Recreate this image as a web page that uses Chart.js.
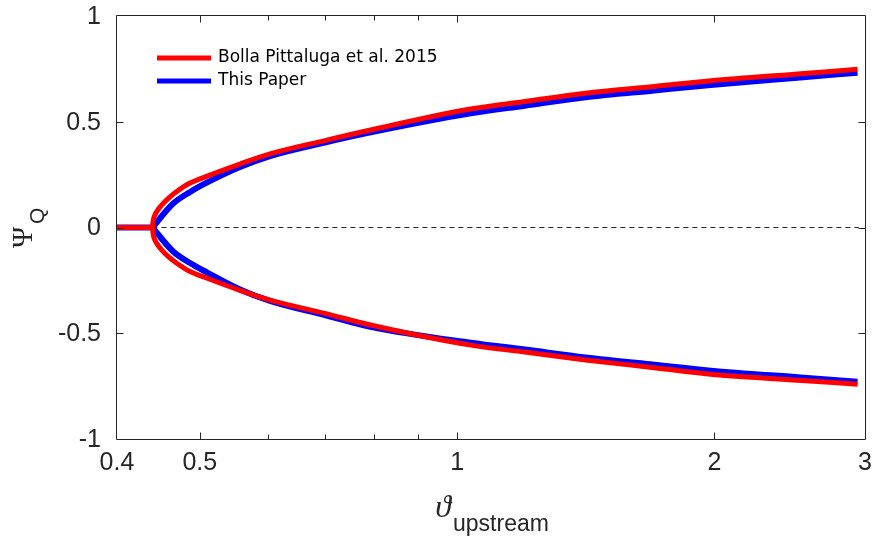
<!DOCTYPE html>
<html>
<head>
<meta charset="utf-8">
<script src="https://cdn.jsdelivr.net/npm/chart.js@4/dist/chart.umd.min.js"></script>
<style>
  html, body { margin: 0; padding: 0; background: #fff; }
  canvas { display: block; }
</style>
</head>
<body>
<canvas id="c" width="875" height="541"></canvas>
<script>
// Shields parameter upstream (log axis) and discharge asymmetry Psi_Q
const xTicks = [0.4, 0.5, 1, 2, 3];
const xTickLabels = ['0.4', '0.5', '1', '2', '3'];
const xMinorTicks = [0.6, 0.7, 0.8, 0.9];
const yTicks = [-1, -0.5, 0, 0.5, 1];
const yTickLabels = ['-1', '-0.5', '0', '0.5', '1'];

// symmetric (no bifurcation) state below the critical value
const thetaFlat = [0.40, 0.44];
const psiFlat = [0, 0];

// Bolla Pittaluga et al. 2015, branches starting at the bifurcation point
const thetaBP = [0.44, 0.441, 0.443, 0.4467, 0.4516, 0.459, 0.4703, 0.487, 0.51, 0.557, 0.604, 0.70, 0.792, 1.037, 1.2, 1.413, 1.7, 1.98, 2.5, 2.94];
const psiBPUpper = [0, 0.034, 0.059, 0.084, 0.108, 0.137, 0.171, 0.210, 0.243, 0.300, 0.348, 0.411, 0.461, 0.560, 0.596, 0.635, 0.667, 0.694, 0.726, 0.748];
const psiBPLower = [0, -0.034, -0.059, -0.084, -0.108, -0.137, -0.170, -0.208, -0.240, -0.297, -0.343, -0.406, -0.461, -0.556, -0.589, -0.626, -0.663, -0.694, -0.722, -0.741];

// This paper
const thetaTP = [0.44, 0.465, 0.487, 0.51, 0.557, 0.604, 0.70, 0.792, 1.037, 1.2, 1.413, 1.7, 1.98, 2.5, 2.94];
const psiTPUpper = [0, 0.112, 0.168, 0.213, 0.286, 0.338, 0.402, 0.450, 0.540, 0.576, 0.616, 0.648, 0.674, 0.708, 0.732];
const psiTPLower = [0, -0.112, -0.168, -0.213, -0.293, -0.347, -0.414, -0.470, -0.545, -0.577, -0.614, -0.649, -0.677, -0.708, -0.729];

// dashed zero reference
const zeroX = [0.44, 2.95];
const zeroY = [0, 0];

const seriesNames = ['Bolla Pittaluga et al. 2015', 'This Paper'];

// flat part, upper branch and lower branch as one path with gaps between them
function branches(xs, up, low) {
  const gap = (x) => ({ x, y: null });
  const pts = thetaFlat.map((x, i) => ({ x, y: psiFlat[i] }));
  pts.push(gap(thetaFlat[thetaFlat.length - 1]));
  xs.forEach((x, i) => pts.push({ x, y: up[i] }));
  pts.push(gap(xs[xs.length - 1]));
  xs.forEach((x, i) => pts.push({ x, y: low[i] }));
  return pts;
}

const frameColor = '#262626';
const tickFont = '25px "Liberation Sans"';

const framePlugin = {
  id: 'frame',
  afterDatasetsDraw(chart) {
    const { ctx, chartArea: a, scales: { x, y } } = chart;
    const L = Math.round(a.left) - 0.5, R = Math.round(a.right) + 0.5;
    const T = Math.round(a.top) - 0.5, B = Math.round(a.bottom) + 0.5;
    ctx.save();
    ctx.strokeStyle = frameColor;
    ctx.lineWidth = 1;
    ctx.beginPath();
    ctx.rect(L, T, R - L, B - T);
    // x ticks, inward on bottom and top
    const xt = (v, len) => {
      const px = Math.round(x.getPixelForValue(v)) + 0.5;
      ctx.moveTo(px, B); ctx.lineTo(px, B - len);
      ctx.moveTo(px, T); ctx.lineTo(px, T + len);
    };
    xTicks.slice(1, -1).forEach(v => xt(v, 7));
    xMinorTicks.forEach(v => xt(v, 5));
    // y ticks, inward on left and right
    yTicks.slice(1, -1).forEach(v => {
      const py = Math.round(y.getPixelForValue(v)) + 0.5;
      ctx.moveTo(L, py); ctx.lineTo(L + 7, py);
      ctx.moveTo(R, py); ctx.lineTo(R - 7, py);
    });
    ctx.stroke();

    // tick labels
    ctx.fillStyle = frameColor;
    ctx.font = tickFont;
    ctx.textAlign = 'center';
    ctx.textBaseline = 'top';
    xTicks.forEach((v, i) => ctx.fillText(xTickLabels[i], x.getPixelForValue(v), a.bottom + 12));
    ctx.textAlign = 'right';
    ctx.textBaseline = 'middle';
    yTicks.forEach((v, i) => ctx.fillText(yTickLabels[i], a.left - 16, y.getPixelForValue(v) + 1));
    ctx.restore();
  },
  afterDraw(chart) {
    const { ctx } = chart;
    ctx.save();
    // legend
    const items = chart.data.datasets.filter(d => d.inLegend);
    ctx.font = '17px "DejaVu Sans"';
    ctx.textBaseline = 'middle';
    ctx.textAlign = 'left';
    items.forEach((d, i) => {
      const ly = 58 + i * 23;
      ctx.strokeStyle = d.borderColor;
      ctx.lineWidth = 5;
      ctx.beginPath();
      ctx.moveTo(157, ly); ctx.lineTo(211, ly);
      ctx.stroke();
      ctx.fillStyle = '#000';
      ctx.fillText(d.label, 218, ly);
    });
    // x axis title: theta_upstream
    ctx.fillStyle = frameColor;
    ctx.textBaseline = 'alphabetic';
    ctx.textAlign = 'right';
    ctx.font = 'italic 32px "Liberation Serif"';
    ctx.fillText('\u03D1', 451, 517);
    ctx.textAlign = 'left';
    ctx.font = '23px "Liberation Sans"';
    ctx.fillText('upstream', 453, 531);
    // y axis title: Psi_Q
    ctx.translate(32, 248);
    ctx.rotate(-Math.PI / 2);
    ctx.font = '29px "Liberation Serif"';
    ctx.fillText('\u03A8', 0, 0);
    ctx.font = '21px "Liberation Sans"';
    ctx.fillText('Q', 24, 12);
    ctx.restore();
  }
};

new Chart(document.getElementById('c'), {
  type: 'scatter',
  data: {
    datasets: [
      {
        label: seriesNames[0],
        inLegend: true,
        data: branches(thetaBP, psiBPUpper, psiBPLower),
        showLine: true, spanGaps: false,
        borderColor: '#ff0000', borderWidth: 5,
        borderJoinStyle: 'round', borderCapStyle: 'butt',
        cubicInterpolationMode: 'monotone',
        pointRadius: 0, order: 0
      },
      {
        label: seriesNames[1],
        inLegend: true,
        data: branches(thetaTP, psiTPUpper, psiTPLower),
        showLine: true, spanGaps: false,
        borderColor: '#0000ff', borderWidth: 6,
        borderJoinStyle: 'round', borderCapStyle: 'butt',
        cubicInterpolationMode: 'monotone',
        pointRadius: 0, order: 1
      },
      {
        label: 'zero',
        inLegend: false,
        data: zeroX.map((x, i) => ({ x, y: zeroY[i] })),
        showLine: true,
        borderColor: '#262626', borderWidth: 1, borderDash: [5, 4],
        pointRadius: 0, order: 2
      }
    ]
  },
  options: {
    responsive: false,
    animation: false,
    events: [],
    layout: { padding: { top: 16, right: 10, left: 0, bottom: 0 } },
    plugins: { legend: { display: false }, tooltip: { enabled: false } },
    scales: {
      x: {
        type: 'logarithmic', min: 0.4, max: 3,
        grid: { display: false, drawTicks: false },
        border: { display: false },
        ticks: { display: false },
        afterBuildTicks: (s) => { s.ticks = xTicks.map(v => ({ value: v })); },
        afterFit: (s) => { s.height = 102; }
      },
      y: {
        type: 'linear', min: -1, max: 1,
        grid: { display: false, drawTicks: false },
        border: { display: false },
        ticks: { display: false },
        afterBuildTicks: (s) => { s.ticks = yTicks.map(v => ({ value: v })); },
        afterFit: (s) => { s.width = 117; }
      }
    }
  },
  plugins: [framePlugin]
});
</script>
</body>
</html>
